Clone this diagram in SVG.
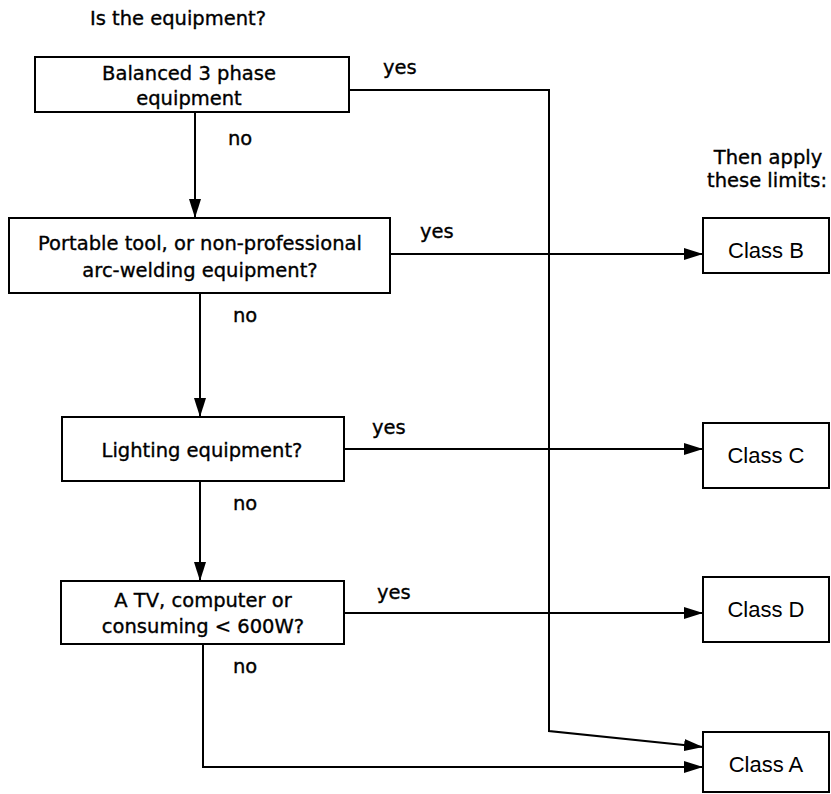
<svg xmlns="http://www.w3.org/2000/svg" width="831" height="794" viewBox="0 0 831 794">
<style>
.box{fill:#fff;stroke:#000;stroke-width:2}
.t{font-family:"DejaVu Sans","Liberation Sans",sans-serif;font-size:19.5px;fill:#000;stroke:#000;stroke-width:0.35;text-anchor:middle}
.c{font-family:"Liberation Sans",Arial,sans-serif;font-size:22px;fill:#000;text-anchor:middle}
.l{font-family:"DejaVu Sans","Liberation Sans",sans-serif;font-size:19.5px;fill:#000;stroke:#000;stroke-width:0.35}
.ln{fill:none;stroke:#000;stroke-width:2}
</style>
<defs>
<marker id="ah" viewBox="0 0 19 12" refX="19" refY="6" markerWidth="19" markerHeight="12" markerUnits="userSpaceOnUse" orient="auto">
<path d="M0,0 L19,6 L0,12 Z" fill="#000"/>
</marker>
</defs>
<rect width="831" height="794" fill="#fff"/>
<text class="t" x="178" y="25">Is the equipment?</text>
<text class="t" x="768" y="164">Then apply</text>
<text class="t" x="767" y="187">these limits:</text>
<g id="connectors">
<polyline class="ln" points="349,90 549,90 549,731 703,747" marker-end="url(#ah)"/>
<line class="ln" x1="195" y1="112" x2="195" y2="218" marker-end="url(#ah)"/>
<line class="ln" x1="390" y1="254" x2="703" y2="254" marker-end="url(#ah)"/>
<line class="ln" x1="200" y1="293" x2="200" y2="417" marker-end="url(#ah)"/>
<line class="ln" x1="344" y1="449" x2="703" y2="449" marker-end="url(#ah)"/>
<line class="ln" x1="200" y1="481" x2="200" y2="581" marker-end="url(#ah)"/>
<line class="ln" x1="344" y1="613" x2="703" y2="613" marker-end="url(#ah)"/>
<polyline class="ln" points="203,644 203,767 703,767" marker-end="url(#ah)"/>
<text class="l" x="383" y="74">yes</text>
<text class="l" x="228" y="145">no</text>
<text class="l" x="420" y="238">yes</text>
<text class="l" x="233" y="322">no</text>
<text class="l" x="372" y="434">yes</text>
<text class="l" x="233" y="510">no</text>
<text class="l" x="377" y="599">yes</text>
<text class="l" x="233" y="673">no</text>
</g>
<g id="n1">
<rect class="box" x="35" y="57" width="314" height="55"/>
<text class="t" x="189" y="80">Balanced 3 phase</text>
<text class="t" x="189" y="105">equipment</text>
</g>
<g id="n2">
<rect class="box" x="9" y="218" width="381" height="75"/>
<text class="t" x="200" y="250">Portable tool, or non-professional</text>
<text class="t" x="200" y="277">arc-welding equipment?</text>
</g>
<g id="n3">
<rect class="box" x="62" y="417" width="282" height="64"/>
<text class="t" x="202" y="457">Lighting equipment?</text>
</g>
<g id="n4">
<rect class="box" x="61" y="581" width="283" height="63"/>
<text class="t" x="203" y="607">A TV, computer or</text>
<text class="t" x="203" y="633">consuming &lt; 600W?</text>
</g>
<g id="classB">
<rect class="box" x="703" y="218" width="126" height="55"/>
<text class="c" x="766" y="258">Class B</text>
</g>
<g id="classC">
<rect class="box" x="703" y="423" width="126" height="65"/>
<text class="c" x="766" y="463">Class C</text>
</g>
<g id="classD">
<rect class="box" x="703" y="577" width="126" height="65"/>
<text class="c" x="766" y="617">Class D</text>
</g>
<g id="classA">
<rect class="box" x="703" y="732" width="126" height="60"/>
<text class="c" x="766" y="772">Class A</text>
</g>
</svg>
